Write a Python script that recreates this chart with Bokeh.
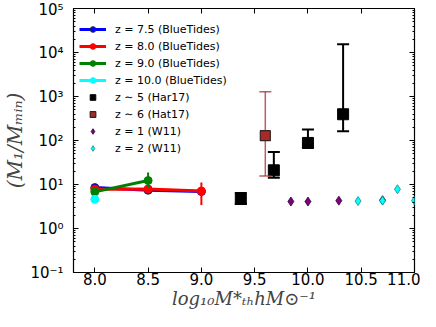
from bokeh.plotting import figure
from bokeh.models import (FixedTicker, CustomJSTickFormatter, LinearAxis, LogAxis,
                          Range1d, Legend, LegendItem)
from bokeh.embed import file_html
from bokeh.resources import INLINE

# ---------------- data ----------------
# BlueTides z=7.5
bt75_x = [8.0, 8.5, 9.0]
bt75_y = [8.5, 7.4, 6.9]
bt75_lo = [8.0, 7.0, 6.2]
bt75_hi = [9.0, 7.8, 7.6]
# BlueTides z=8.0
bt80_x = [8.0, 8.5, 9.0]
bt80_y = [7.8, 7.9, 7.1]
bt80_lo = [7.4, 7.5, 3.4]
bt80_hi = [8.2, 8.4, 11.1]
# BlueTides z=9.0
bt90_x = [8.0, 8.5]
bt90_y = [6.8, 12.3]
bt90_lo = [6.4, 8.6]
bt90_hi = [7.2, 18.7]
# BlueTides z=10.0
bt100_x = [8.0]
bt100_y = [4.6]
bt100_lo = [4.4]
bt100_hi = [4.8]
# Har17 z~5
har_x = [9.37, 9.68, 10.0, 10.33]
har_y = [4.7, 21.0, 88.0, 395.0]
har_lo = [3.6, 14.3, 69.0, 162.0]
har_hi = [6.4, 55.0, 178.0, 15400.0]
# Hat17 z~6
hat_x = [9.6]
hat_y = [129.0]
hat_lo = [15.6]
hat_hi = [1290.0]
# W11 z=1
w1_x = [9.84, 10.0, 10.29, 10.7]
w1_y = [4.1, 4.1, 4.3, 4.4]
# W11 z=2
w2_x = [10.47, 10.7, 10.84, 11.0]
w2_y = [4.2, 4.3, 7.8, 4.3]

x_ticks = [8.0, 8.5, 9.0, 9.5, 10.0, 10.5, 11.0]
y_ticks = [1e-1, 1e0, 1e1, 1e2, 1e3, 1e4, 1e5]

FONT = "DejaVu Sans"

p = figure(width=420, height=311, output_backend="svg", toolbar_location=None,
           y_axis_type="log", x_range=Range1d(7.8, 11.0), y_range=Range1d(0.1, 1e5),
           min_border_left=0, min_border_right=6, min_border_top=8, min_border_bottom=0)
p.xgrid.grid_line_color = None
p.ygrid.grid_line_color = None
p.outline_line_color = "black"
p.outline_line_width = 1.2
p.background_fill_color = "white"

minor_y = [m * 10.0 ** e for e in range(-1, 5) for m in range(2, 10)]
xt = FixedTicker(ticks=x_ticks)
yt = FixedTicker(ticks=y_ticks, minor_ticks=minor_y)

xfmt = CustomJSTickFormatter(code="return tick.toFixed(1);")
yfmt = CustomJSTickFormatter(code="""
const e = Math.round(Math.log10(tick));
const sup = {'-':'\u207b','0':'\u2070','1':'\u00b9','2':'\u00b2','3':'\u00b3','4':'\u2074','5':'\u2075','6':'\u2076','7':'\u2077','8':'\u2078','9':'\u2079'};
return '10' + String(e).split('').map(c => sup[c]).join('');
""")
blank = CustomJSTickFormatter(code="return '';")

def style_axis(ax):
    ax.axis_line_color = None
    ax.major_tick_in = 5
    ax.major_tick_out = 0
    ax.minor_tick_in = 2
    ax.minor_tick_out = 0
    ax.major_tick_line_color = "black"
    ax.minor_tick_line_color = "black"
    ax.major_label_text_font = FONT
    ax.major_label_text_font_size = "15px"
    ax.major_label_text_color = "black"

xa = p.xaxis[0]
xa.ticker = xt
xa.formatter = xfmt
style_axis(xa)
xa.minor_tick_line_color = None
xa.major_label_standoff = 0
xa.axis_label = "log\u2081\u2080M*\u209c\u2095hM\u2299\u207b\u00b9"
xa.axis_label_text_font = "DejaVu Serif"
xa.axis_label_text_font_style = "italic"
xa.axis_label_text_font_size = "18px"
xa.axis_label_standoff = 0

ya = p.yaxis[0]
ya.ticker = yt
ya.formatter = yfmt
style_axis(ya)
ya.major_label_standoff = 10
ya.axis_label = "(M\u2081/M\u2098\u1d62\u2099)"
ya.axis_label_text_font = "DejaVu Serif"
ya.axis_label_text_font_style = "italic"
ya.axis_label_text_font_size = "20px"
ya.axis_label_standoff = 0

def blank_axis(ax):
    style_axis(ax)
    ax.formatter = blank
    ax.major_label_text_font_size = "0px"
    ax.major_label_standoff = 0
    ax.axis_label_standoff = 0

top = LinearAxis(ticker=xt)
blank_axis(top)
top.minor_tick_line_color = None
p.add_layout(top, "above")

right = LogAxis(ticker=yt)
blank_axis(right)
p.add_layout(right, "right")

# ---------------- BlueTides ----------------
items = []
def bluetides(x, y, lo, hi, color, label):
    p.segment(x0=x, y0=lo, x1=x, y1=hi, line_color=color, line_width=2)
    lr = p.line(x, y, line_color=color, line_width=3)
    sr = p.scatter(x, y, marker="circle", size=8, fill_color=color,
                   line_color="#202060" if color == "blue" else color, line_width=1)
    items.append(LegendItem(label=label, renderers=[lr, sr]))

bluetides(bt75_x, bt75_y, bt75_lo, bt75_hi, "blue", "z = 7.5 (BlueTides)")
bluetides(bt80_x, bt80_y, bt80_lo, bt80_hi, "red", "z = 8.0 (BlueTides)")
bluetides(bt90_x, bt90_y, bt90_lo, bt90_hi, "green", "z = 9.0 (BlueTides)")
bluetides(bt100_x, bt100_y, bt100_lo, bt100_hi, "cyan", "z = 10.0 (BlueTides)")

# ---------------- Har17 ----------------
p.segment(x0=har_x, y0=har_lo, x1=har_x, y1=har_hi, line_color="black", line_width=2)
p.scatter(har_x, har_lo, marker="dash", size=12, line_color="black", line_width=2)
p.scatter(har_x, har_hi, marker="dash", size=12, line_color="black", line_width=2)
har_r = p.scatter(har_x, har_y, marker="square", size=11, fill_color="black",
                  line_color="black")
items.append(LegendItem(label="z \u223c 5 (Har17)", renderers=[har_r]))

# ---------------- Hat17 ----------------
p.segment(x0=hat_x, y0=hat_lo, x1=hat_x, y1=hat_hi, line_color="brown",
          line_alpha=0.75, line_width=1.5)
p.scatter(hat_x, hat_lo, marker="dash", size=12, line_color="brown", line_alpha=0.75, line_width=1.5)
p.scatter(hat_x, hat_hi, marker="dash", size=12, line_color="brown", line_alpha=0.75, line_width=1.5)
hat_r = p.scatter(hat_x, hat_y, marker="square", size=10, fill_color="brown",
                  line_color="#3a2020", line_width=1.2)
items.append(LegendItem(label="z \u223c 6 (Hat17)", renderers=[hat_r]))

# ---------------- W11 ----------------
w1_r = p.scatter(w1_x, w1_y, marker="diamond", size=9, fill_color="purple",
                 line_color="#2a0030", line_width=0.8)
items.append(LegendItem(label="z = 1 (W11)", renderers=[w1_r]))
w2_r = p.scatter(w2_x, w2_y, marker="diamond", size=9, fill_color="cyan",
                 line_color="#208080", line_width=0.8)
items.append(LegendItem(label="z = 2 (W11)", renderers=[w2_r]))

legend = Legend(items=items, location=(6, 117))
legend.border_line_color = None
legend.background_fill_alpha = 0
legend.margin = 0
legend.padding = 8
legend.glyph_width = 27
legend.glyph_height = 14
legend.label_height = 14
legend.spacing = 3
legend.label_standoff = 9
legend.label_text_font = FONT
legend.label_text_font_size = "11px"
legend.label_text_color = "black"
p.add_layout(legend, "center")

open("out.html", "w").write(file_html(p, INLINE))
